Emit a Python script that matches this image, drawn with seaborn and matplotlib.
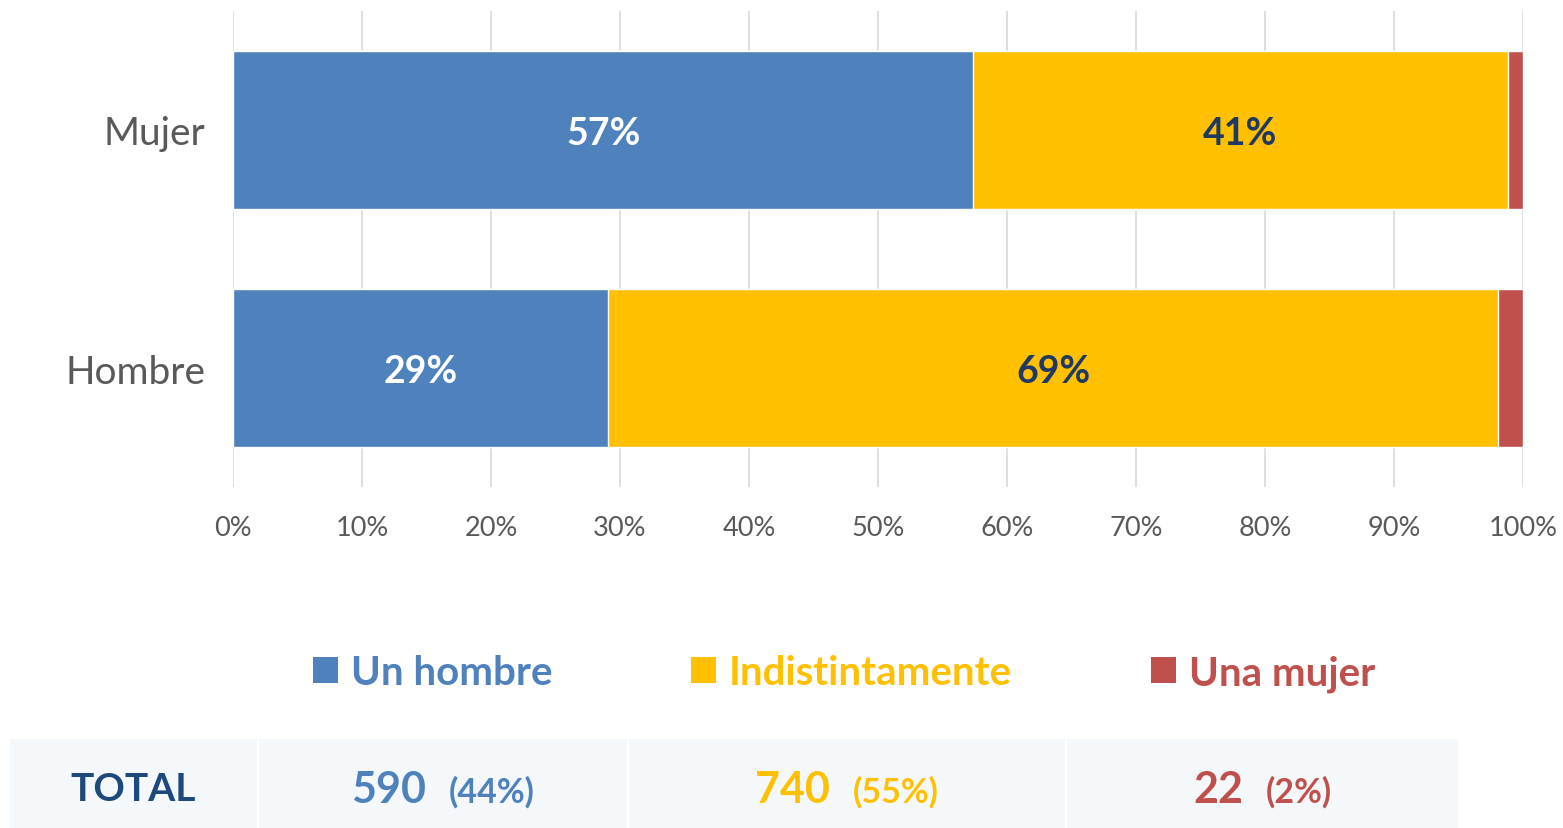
"""Stacked horizontal bar chart: preference by respondent sex, with totals strip."""

import matplotlib.pyplot as plt
import numpy as np
import pandas as pd
import seaborn as sns
from matplotlib.patches import Patch, Rectangle

# data
groups = ["Mujer", "Hombre"]
series = ["Un hombre", "Indistintamente", "Una mujer"]
un_hombre = [57.4, 29.1]
indistintamente = [41.4, 68.95]
una_mujer = [1.2, 1.95]
shown_labels = {"Un hombre": ["57%", "29%"], "Indistintamente": ["41%", "69%"]}
total_counts = [590, 740, 22]
total_pcts = ["(44%)", "(55%)", "(2%)"]
ticks = list(range(0, 101, 10))

COLORS = ["#4f81bd", "#ffc000", "#c0504d"]
LABEL_COLORS = ["white", "#1f3864"]
GRAY = "#595959"
NAVY = "#1f497d"

sns.set_theme(style="white")
plt.rcParams["font.family"] = ["Lato", "DejaVu Sans"]

df = pd.DataFrame(
    {
        "group": groups,
        "Un hombre": un_hombre,
        "Indistintamente": indistintamente,
        "Una mujer": una_mujer,
    }
)
cum = df[series].cumsum(axis=1)
cum["group"] = df["group"]

W, H = 1563, 829
fig = plt.figure(figsize=(W / 100, H / 100), dpi=100)
ax = fig.add_axes([233 / W, 1 - 488 / H, 1290 / W, 476 / H])

# draw widest cumulative first so shorter ones sit on top
for name, color in reversed(list(zip(series, COLORS))):
    sns.barplot(
        data=cum, x=name, y="group", order=groups, color=color,
        orient="h", width=0.667, saturation=1, ax=ax, zorder=3,
    )

# segment labels
for i, g in enumerate(groups):
    left = 0.0
    for k, name in enumerate(series):
        val = df.loc[i, name]
        if name in shown_labels:
            ax.text(
                left + val / 2, i, shown_labels[name][i],
                ha="center", va="center_baseline", fontsize=27, fontweight="bold",
                color=LABEL_COLORS[k], zorder=5,
            )
        left += val

ax.set_xlim(0, 100)
ax.set_ylim(1.5, -0.5)
ax.set_xticks(ticks)
ax.set_xticklabels([f"{t}%" for t in ticks])
ax.set_xlabel("")
ax.set_ylabel("")
ax.grid(axis="x", color="#d9d9d9", linewidth=1.2, zorder=0)
ax.grid(axis="y", visible=False)
for s in ax.spines.values():
    s.set_visible(False)
ax.tick_params(axis="x", length=0, pad=20, labelsize=19.5, labelcolor=GRAY)
ax.tick_params(axis="y", length=0, pad=20, labelsize=28, labelcolor=GRAY)

# legend with series-coloured text
handles = [Patch(facecolor=c, edgecolor="none") for c in COLORS]
fig.legend(
    handles, series, loc="center", bbox_to_anchor=(844 / W, 1 - 674 / H),
    ncol=3, frameon=False, handlelength=0.62, handleheight=0.62,
    handletextpad=0.32, columnspacing=3.45, labelcolor=COLORS,
    prop={"size": 29, "weight": "bold"},
)

# totals strip
cells = [(10, 257), (259, 627), (629, 1065), (1067, 1458)]
for x0, x1 in cells:
    fig.patches.append(
        Rectangle(
            (x0 / W, 0), (x1 - x0) / W, 89 / H,
            transform=fig.transFigure, facecolor="#f4f8fb", edgecolor="none",
        )
    )
ty = 1 - 790 / H
fig.text((cells[0][0] + cells[0][1]) / 2 / W, ty, "TOTAL", ha="center",
         va="center", fontsize=28, fontweight="bold", color=NAVY)

renderer = fig.canvas.get_renderer()
gap = 23
for (x0, x1), n, p, c in zip(cells[1:], total_counts, total_pcts, COLORS):
    t_num = fig.text(0, ty, f"{n}", ha="left", va="center", fontsize=31,
                     fontweight="bold", color=c)
    t_pct = fig.text(0, ty - 0.003, p, ha="left", va="center", fontsize=24.5,
                     fontweight="bold", color=c)
    w_num = t_num.get_window_extent(renderer).width
    w_pct = t_pct.get_window_extent(renderer).width
    start = (x0 + x1) / 2 - (w_num + gap + w_pct) / 2
    t_num.set_x(start / W)
    t_pct.set_x((start + w_num + gap) / W)

fig.savefig("out.png", dpi=100)
